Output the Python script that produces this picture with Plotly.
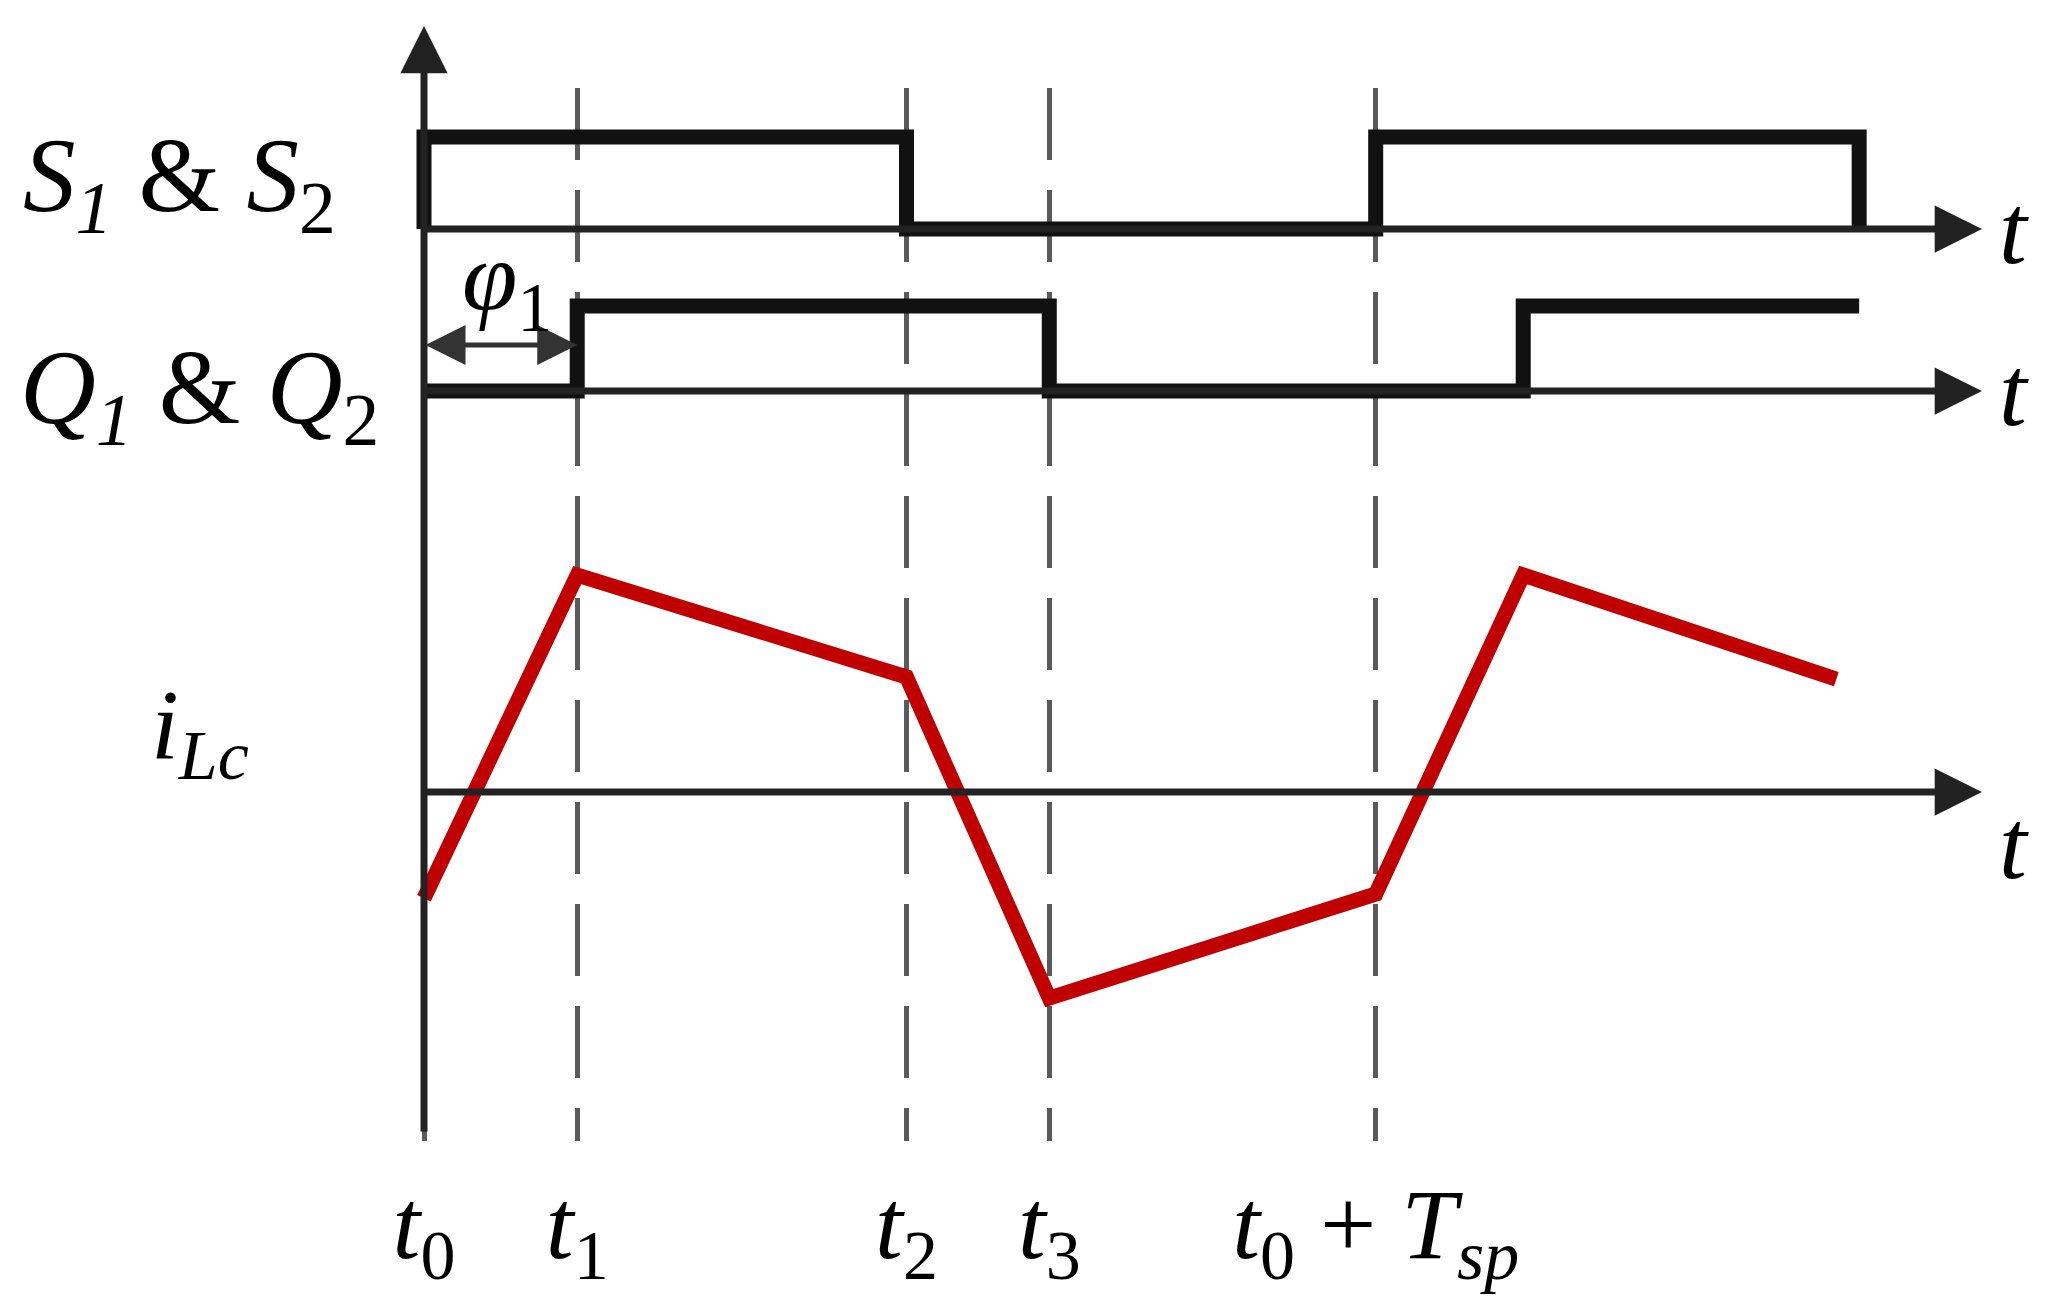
import plotly.graph_objects as go

W, H = 2064, 1304

# switching instants, in units of the period Tsp (t0 = 0)
t_marks = [0.0, 0.161, 0.507, 0.657, 1.0]
t_labels = ["<i>t</i><sub>0</sub>", "<i>t</i><sub>1</sub>", "<i>t</i><sub>2</sub>",
            "<i>t</i><sub>3</sub>", "<i>t</i><sub>0</sub> + <i>T</i><sub><i>sp</i></sub>"]

# gate signals S1&S2 and Q1&Q2 (0 = off, 1 = on)
s_time = [0.0, 0.0, 0.507, 0.507, 1.0, 1.0, 1.508, 1.508]
s_level = [0, 1, 1, 0, 0, 1, 1, 0]
q_time = [0.0, 0.161, 0.161, 0.657, 0.657, 1.155, 1.155, 1.508]
q_level = [0, 0, 1, 1, 0, 0, 1, 1]

# inductor current iLc, normalised to its peak
i_time = [0.0, 0.161, 0.507, 0.657, 1.0, 1.155, 1.484]
i_lc = [-0.49, 1.0, 0.53, -0.95, -0.47, 1.0, 0.52]

# layout in figure pixels
X0_PX = 416       # where t0 sits
UNIT_PX = 951.7   # pixels per Tsp
TOP, BOT = 80, 1133
T_END = 1.637     # tip of the time arrows
FONT = "Liberation Serif"
INK = "#111111"
AXIS = "#222222"


def yrange(p0, p1):
    # level 0 drawn at pixel p0, level 1 at pixel p1
    k = 1.0 / (p0 - p1)
    return [-(BOT - p0) * k, (p0 - TOP) * k]


def paper_y(px):
    return (BOT - px) / (BOT - TOP)


fig = go.Figure()
fig.add_trace(go.Scatter(x=s_time, y=s_level, yaxis="y", mode="lines",
                         line=dict(color=INK, width=15), hoverinfo="skip"))
fig.add_trace(go.Scatter(x=q_time, y=q_level, yaxis="y2", mode="lines",
                         line=dict(color=INK, width=15), hoverinfo="skip"))
fig.add_trace(go.Scatter(x=i_time, y=i_lc, yaxis="y3", mode="lines",
                         line=dict(color="#c00000", width=15), hoverinfo="skip"))

ann = []
# time axes with arrow heads
for yr in ["y", "y2", "y3"]:
    ann.append(dict(x=T_END, y=0, xref="x", yref=yr, ax=0, ay=0, axref="x", ayref=yr,
                    text="", showarrow=True, arrowhead=2, arrowsize=1.35, arrowwidth=7,
                    arrowcolor=AXIS))
# vertical axis
ann.append(dict(x=0, y=paper_y(18), xref="x", yref="paper", ax=0, ay=1125 - 18,
                text="", showarrow=True, arrowhead=2, arrowsize=1.35, arrowwidth=7,
                arrowcolor=AXIS))
# phase shift arrow
ann.append(dict(x=t_marks[1], y=0.54, xref="x", yref="y2", ax=0, ay=0.54, axref="x", ayref="y2",
                text="", showarrow=True, arrowhead=2, arrowside="end+start", arrowsize=1.6,
                arrowwidth=5, arrowcolor="#333333"))

big = dict(family=FONT, size=105, color="black")
mid = dict(family=FONT, size=100, color="black")
ann += [
    dict(x=171 / W, y=0.5, xref="paper", yref="y", xanchor="center", showarrow=False, font=big,
         text="<i>S</i><sub><i>1</i></sub> & <i>S</i><sub>2</sub>"),
    dict(x=191 / W, y=-0.05, xref="paper", yref="y2", xanchor="center", showarrow=False, font=big,
         text="<i>Q</i><sub><i>1</i></sub> & <i>Q</i><sub>2</sub>"),
    dict(x=192 / W, y=0.28, xref="paper", yref="y3", xanchor="center", showarrow=False, font=mid,
         text="<i>i</i><sub><i>Lc</i></sub>"),
    dict(x=0.087, y=1.27, xref="x", yref="y2", xanchor="center", showarrow=False, font=mid,
         text="<i>φ</i><sub>1</sub>"),
]
for yr, yv in [("y", 0), ("y2", 0), ("y3", -0.24)]:
    ann.append(dict(x=1.671, y=yv, xref="x", yref=yr, xanchor="center", showarrow=False,
                    font=mid, text="<i>t</i>"))

fig.update_layout(
    width=W, height=H,
    margin=dict(l=0, r=0, t=TOP, b=H - BOT),
    paper_bgcolor="white", plot_bgcolor="white",
    showlegend=False,
    xaxis=dict(range=[-X0_PX / UNIT_PX, (W - X0_PX) / UNIT_PX],
               tickvals=t_marks, ticktext=t_labels, ticks="", ticklabelstandoff=16,
               tickfont=dict(family=FONT, size=100, color="black"),
               showgrid=True, gridcolor="#5a5a5a", gridwidth=5, griddash="72px,30px",
               zeroline=False, showline=False),
    yaxis=dict(range=yrange(221, 129), visible=False),
    yaxis2=dict(range=yrange(383, 298), overlaying="y", visible=False),
    yaxis3=dict(range=yrange(784, 567), overlaying="y", visible=False),
    annotations=ann,
)

fig.write_html("out.html")
